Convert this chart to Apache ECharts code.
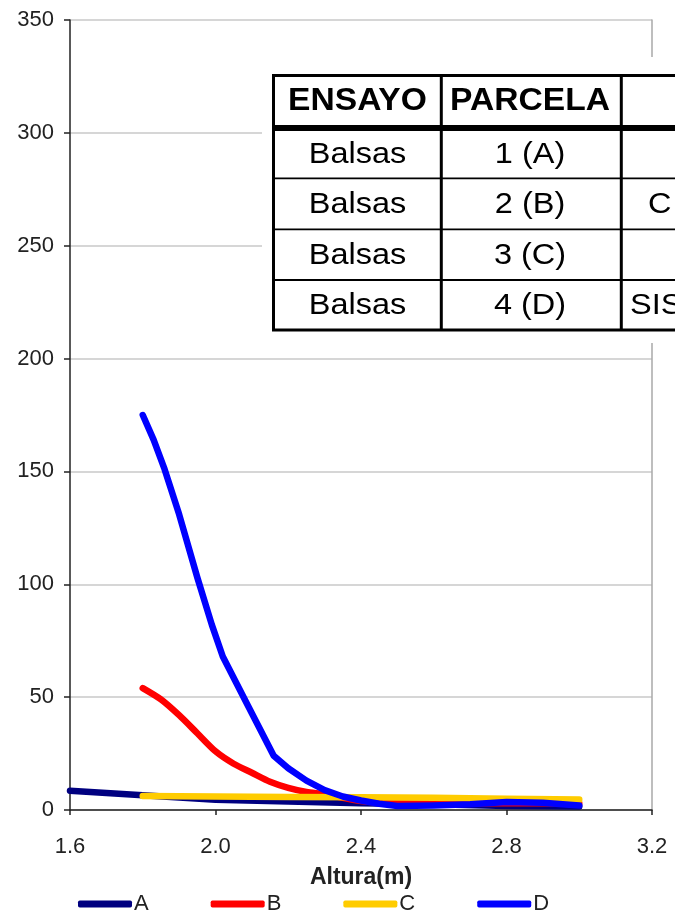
<!DOCTYPE html>
<html>
<head>
<meta charset="utf-8">
<script src="https://cdn.jsdelivr.net/npm/echarts@6/dist/echarts.min.js"></script>
<style>
html,body{margin:0;padding:0;background:#fff;}
#chart{width:675px;height:924px;}
</style>
</head>
<body>
<div id="chart"></div>
<script>
// ---- data ----
const seriesNames = ['A', 'B', 'C', 'D'];
const seriesColors = ['#000080', '#ff0000', '#ffcc00', '#0000ff'];
const serieA = [[1.6, 8.5], [1.7, 7.5], [1.8, 6.5], [1.9, 5.5], [2.0, 4.5], [2.2, 3.8], [2.4, 3.0], [2.6, 2.5], [2.8, 1.8], [3.0, 1.6]];
const serieB = [[1.8, 54], [1.85, 49], [1.9, 42], [1.95, 34], [2.0, 26], [2.05, 20.5], [2.1, 16.5], [2.15, 12.5], [2.2, 9.8], [2.25, 8], [2.3, 7], [2.4, 4], [2.5, 3], [2.6, 3], [2.8, 3], [3.0, 3]];
const serieC = [[1.8, 6.2], [2.0, 6.0], [2.2, 5.8], [2.4, 5.6], [2.6, 5.4], [2.8, 5.0], [3.0, 4.6]];
const serieD = [[1.8, 175], [1.83, 164], [1.86, 151], [1.9, 131], [1.95, 103], [1.99, 82], [2.02, 68], [2.09, 46], [2.16, 24], [2.2, 18.5], [2.25, 13], [2.3, 8.8], [2.35, 6], [2.4, 4.2], [2.45, 2.8], [2.5, 1.8], [2.6, 2], [2.7, 2.5], [2.8, 3.5], [2.9, 3.2], [3.0, 2]];
const xAxisTitle = 'Altura(m)';
const tableHeader = ['ENSAYO', 'PARCELA', ''];
const tableEnsayo = ['Balsas', 'Balsas', 'Balsas', 'Balsas'];
const tableParcela = ['1 (A)', '2 (B)', '3 (C)', '4 (D)'];
const tableThird = ['', 'C', '', 'SIS'];

const FONT = '"Liberation Sans", Arial, sans-serif';

// ---- table overlay (graphic) ----
const tblLeft = 273.5, tblTop = 75.5, tblBottom = 330, tblRight = 700;
const colX = [441.3, 621.3];
const headerLineY = 128;
const rowLinesY = [178.3, 229.3, 280];
const rowCenters = [155, 205, 255.5, 306];
const headerCenter = 101.5;
const colCenters = [357.5, 530];

const graphics = [];
graphics.push({type: 'rect', z: 100, shape: {x: 262, y: 57, width: 430, height: 286}, style: {fill: '#ffffff'}});
graphics.push({type: 'rect', z: 101, shape: {x: tblLeft, y: tblTop, width: tblRight - tblLeft, height: tblBottom - tblTop}, style: {fill: 'none', stroke: '#000', lineWidth: 3}});
graphics.push({type: 'line', z: 101, shape: {x1: tblLeft, y1: headerLineY, x2: tblRight, y2: headerLineY}, style: {stroke: '#000', lineWidth: 6}});
rowLinesY.forEach(y => graphics.push({type: 'line', z: 101, shape: {x1: tblLeft, y1: y, x2: tblRight, y2: y}, style: {stroke: '#000', lineWidth: 1.8}}));
colX.forEach(x => graphics.push({type: 'line', z: 101, shape: {x1: x, y1: tblTop, x2: x, y2: tblBottom}, style: {stroke: '#000', lineWidth: 3}}));
function cellText(txt, x, y, bold, align) {
  return {type: 'text', z: 102, x: x, y: y, scaleX: 1.12, scaleY: 1.04,
    style: {text: txt, fill: '#000', font: (bold ? 'bold 30px ' : '29px ') + FONT, align: align || 'center', verticalAlign: 'middle'}};
}
graphics.push(cellText(tableHeader[0], colCenters[0], headerCenter, true));
graphics.push(cellText(tableHeader[1], colCenters[1], headerCenter, true));
for (let i = 0; i < 4; i++) {
  graphics.push(cellText(tableEnsayo[i], colCenters[0], rowCenters[i], false));
  graphics.push(cellText(tableParcela[i], colCenters[1], rowCenters[i], false));
}
graphics.push(cellText(tableThird[1], 648, rowCenters[1], false, 'left'));
graphics.push(cellText(tableThird[3], 630, rowCenters[3], false, 'left'));

const chart = echarts.init(document.getElementById('chart'), null, {renderer: 'canvas'});
const seriesData = [serieA, serieB, serieC, serieD];
chart.setOption({
  animation: false,
  backgroundColor: '#fff',
  grid: {left: 70, right: 23, top: 20, bottom: 114, containLabel: false},
  xAxis: {
    type: 'value', min: 1.6, max: 3.2, interval: 0.4,
    name: xAxisTitle, nameLocation: 'middle', nameGap: 56,
    nameTextStyle: {fontFamily: FONT, fontWeight: 'bold', fontSize: 23, color: '#222'},
    axisLine: {show: true, onZero: false, lineStyle: {color: '#222', width: 1.5}},
    axisTick: {show: true, length: 5, lineStyle: {color: '#222', width: 1.5}},
    axisLabel: {margin: 26, fontFamily: FONT, fontSize: 22, color: '#222', formatter: v => v.toFixed(1)},
    splitLine: {show: false}
  },
  yAxis: [{
    type: 'value', min: 0, max: 350, interval: 50,
    axisLine: {show: true, lineStyle: {color: '#222', width: 1.5}},
    axisTick: {show: true, length: 6, lineStyle: {color: '#222', width: 1.5}},
    axisLabel: {margin: 16, fontFamily: FONT, fontSize: 22, color: '#222'},
    splitLine: {show: true, lineStyle: {color: '#c8c8c8', width: 1.5}}
  }, {
    type: 'value', min: 0, max: 350, interval: 50, position: 'right',
    axisLine: {show: true, lineStyle: {color: '#a8a8a8', width: 1.5}},
    axisTick: {show: false}, axisLabel: {show: false}, splitLine: {show: false}
  }],
  legend: {
    data: seriesNames, left: 78, top: 893, padding: 0, icon: 'roundRect',
    itemWidth: 54, itemHeight: 7, itemGap: 62,
    textStyle: {fontFamily: FONT, fontSize: 22, color: '#222', padding: [5, 0, 0, -3]}
  },
  series: seriesNames.map((n, i) => ({
    name: n, type: 'line', data: seriesData[i], yAxisIndex: 0,
    showSymbol: false, symbol: 'none', smooth: i === 1 ? 0.25 : false,
    lineStyle: {color: seriesColors[i], width: 6.5, cap: 'round', join: 'round'},
    itemStyle: {color: seriesColors[i]},
    z: 2 + i
  })),
  graphic: graphics
});
</script>
</body>
</html>
